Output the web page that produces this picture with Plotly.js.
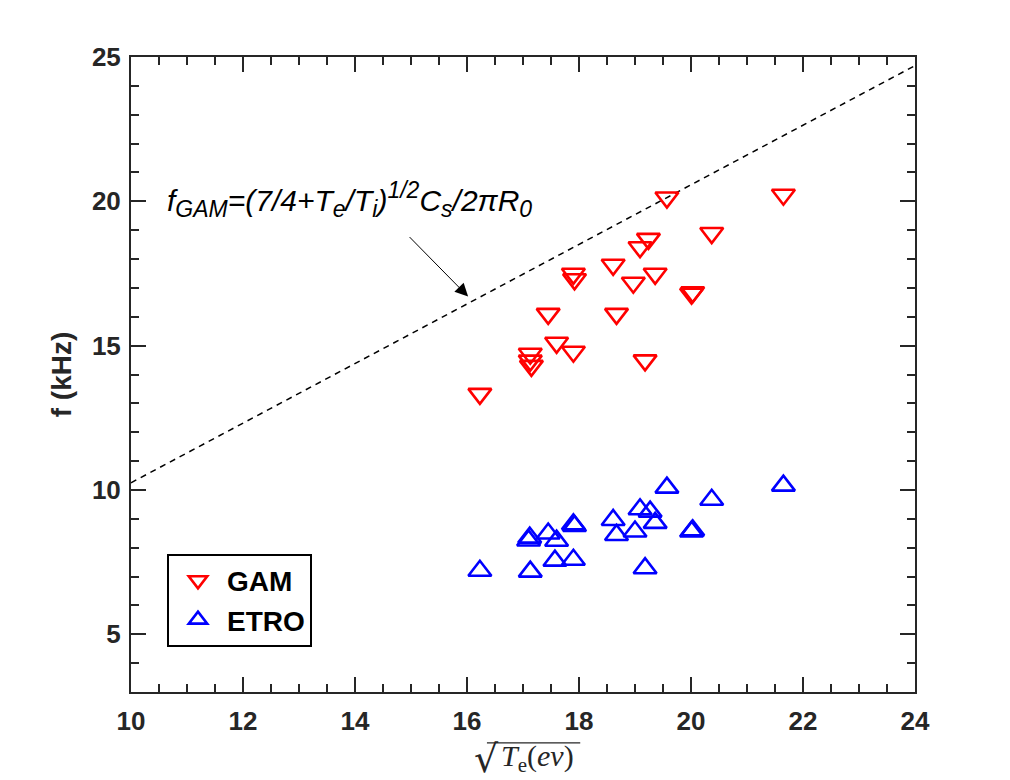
<!DOCTYPE html>
<html>
<head>
<meta charset="utf-8">
<script src="https://cdn.plot.ly/plotly-3.0.1.min.js"></script>
<style>
  html, body { margin: 0; padding: 0; background: #fff; }
  #chart { width: 1010px; height: 780px; }
</style>
</head>
<body>
<div id="chart"></div>
<script>
// GAM points (red, down triangles)
const gamX = [16.23, 17.13, 17.13, 17.15, 17.45, 17.60, 17.90, 17.92, 17.90, 18.61, 18.67,
              18.97, 19.09, 19.24, 19.18, 19.36, 19.57, 20.01, 20.03, 20.37, 21.65];
const gamY = [13.33, 14.72, 14.48, 14.30, 16.10, 15.10, 17.49, 17.30, 14.79, 17.80, 16.10,
              17.18, 18.41, 18.70, 14.49, 17.49, 20.13, 16.80, 16.85, 18.90, 20.23];

// ETRO points (blue, up triangles)
const etroX = [16.23, 17.13, 17.10, 17.12, 17.45, 17.60, 17.57, 17.90, 17.90, 17.92, 18.61,
               18.67, 19.00, 19.09, 19.27, 19.36, 19.18, 19.57, 20.37, 20.01, 20.03, 21.65];
const etroY = [7.20, 7.17, 8.25, 8.35, 8.49, 8.24, 7.55, 7.58, 8.81, 8.75, 8.96,
               8.44, 8.56, 9.33, 9.25, 8.86, 7.29, 10.08, 9.66, 8.56, 8.60, 10.15];

// theory line end points
const lineX = [10, 24];
const lineY = [10.25, 24.7];

const axisColor = '#262626';
const sans = 'Liberation Sans, Arial, sans-serif';
const serif = 'Liberation Serif, Times New Roman, serif';
const tickFont = { family: sans, size: 26, color: axisColor, weight: 'bold' };

const traces = [
  {
    x: lineX, y: lineY, mode: 'lines', showlegend: false,
    line: { color: 'black', width: 1.5, dash: '6px,5px' }, hoverinfo: 'skip'
  },
  {
    x: gamX, y: gamY, mode: 'markers', name: 'GAM',
    marker: { symbol: 'triangle-down-open', size: 20, color: '#ff0000', line: { width: 2.6, color: '#ff0000' } }
  },
  {
    x: etroX, y: etroY, mode: 'markers', name: 'ETRO',
    marker: { symbol: 'triangle-up-open', size: 20, color: '#0000ff', line: { width: 2.6, color: '#0000ff' } }
  }
];

const sub = s => '<span style="font-size:23px">' + s + '</span>';

const layout = {
  width: 1010, height: 780,
  margin: { l: 131, r: 95, t: 57, b: 88 },
  paper_bgcolor: '#fff', plot_bgcolor: '#fff',
  xaxis: {
    range: [10, 24], dtick: 2, tick0: 10,
    showgrid: false, zeroline: false,
    showline: true, linecolor: axisColor, linewidth: 2, mirror: 'ticks',
    ticks: 'inside', ticklen: 15, tickwidth: 2, tickcolor: axisColor,
    minor: { dtick: 0.5, ticks: 'inside', ticklen: 8, tickwidth: 2, tickcolor: axisColor },
    tickfont: tickFont, ticklabelstandoff: 5
  },
  yaxis: {
    range: [3, 25], dtick: 5, tick0: 0,
    showgrid: false, zeroline: false,
    showline: true, linecolor: axisColor, linewidth: 2, mirror: 'ticks',
    ticks: 'inside', ticklen: 15, tickwidth: 2, tickcolor: axisColor,
    minor: { dtick: 1, ticks: 'inside', ticklen: 8, tickwidth: 2, tickcolor: axisColor },
    tickfont: tickFont, ticklabelstandoff: 3,
    title: {
      text: 'f (kHz)',
      font: { family: sans, size: 28, color: axisColor, weight: 'bold' },
      standoff: 12
    }
  },
  legend: {
    x: 0.0459, y: 0.218, xanchor: 'left', yanchor: 'top',
    bgcolor: '#fff', bordercolor: 'black', borderwidth: 2,
    font: { family: sans, size: 28, color: 'black', weight: 'bold' },
    itemwidth: 48
  },
  annotations: [
    {
      x: 10.61, y: 20.06, xref: 'x', yref: 'y', xanchor: 'left', yanchor: 'middle',
      showarrow: false,
      text: '<i>f<sub>' + sub('GAM') + '</sub>=(7/4+T<sub>' + sub('e') + '</sub>/T<sub>' + sub('i') +
            '</sub>)<sup>' + sub('1/2') + '</sup>C<sub>' + sub('s') + '</sub>/2πR<sub>' + sub('0') + '</sub></i>',
      font: { family: sans, size: 30, color: 'black' }
    },
    {
      x: 16.02, y: 16.7, xref: 'x', yref: 'y', text: '',
      showarrow: true, arrowhead: 2, arrowsize: 2.6, arrowwidth: 1, arrowcolor: 'black',
      ax: -60, ay: -61
    },
    // x-axis label: sqrt(T_e(ev))
    {
      x: 0.453, y: -0.106, xref: 'paper', yref: 'paper', xanchor: 'center', yanchor: 'middle',
      showarrow: false, text: '√', font: { family: 'DejaVu Serif, serif', size: 38, color: axisColor }
    },
    {
      x: 0.5185, y: -0.104, xref: 'paper', yref: 'paper', xanchor: 'center', yanchor: 'middle',
      showarrow: false, text: '<i>T</i><sub>e</sub>(<i>ev</i>)',
      font: { family: serif, size: 30, color: axisColor }
    }
  ],
  shapes: [
    {
      type: 'line', xref: 'paper', yref: 'paper',
      x0: 0.454, x1: 0.573, y0: -0.080, y1: -0.080,
      line: { color: axisColor, width: 1.3 }
    }
  ]
};

Plotly.newPlot('chart', traces, layout, { displayModeBar: false });
</script>
</body>
</html>
